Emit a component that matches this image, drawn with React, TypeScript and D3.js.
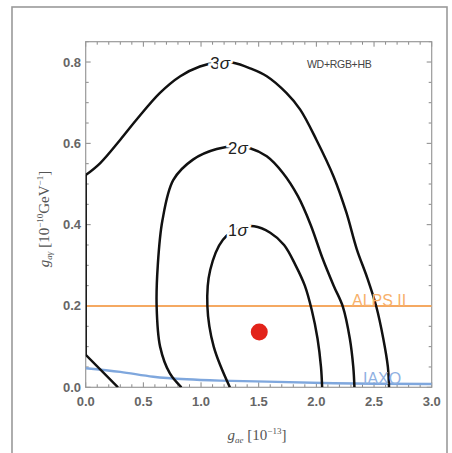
import React from "react";
import * as d3 from "d3";

const xTicks = [0, 0.5, 1.0, 1.5, 2.0, 2.5, 3.0];
const yTicks = [0, 0.2, 0.4, 0.6, 0.8];

const sigma3Edge: [number, number][] = [
  [0.28, 0], [0.0, 0.08], [0.0, 0.522],
];
const sigma3Curve: [number, number][] = [
  [0.0, 0.522], [0.124, 0.551], [0.3, 0.609], [0.44, 0.658], [0.644, 0.724], [0.82, 0.765],
  [0.99, 0.789], [1.165, 0.8], [1.28, 0.798], [1.42, 0.785], [1.57, 0.765], [1.74, 0.724],
  [1.86, 0.683], [2.0, 0.609], [2.15, 0.518], [2.26, 0.43], [2.35, 0.34], [2.44, 0.27],
  [2.52, 0.198], [2.58, 0.12], [2.62, 0.05], [2.63, 0],
];
const sigma2: [number, number][] = [
  [0.83, 0], [0.73, 0.034], [0.645, 0.1], [0.615, 0.2], [0.625, 0.3], [0.665, 0.41],
  [0.76, 0.51], [0.93, 0.56], [1.136, 0.586], [1.31, 0.592], [1.425, 0.588], [1.57, 0.568],
  [1.71, 0.527], [1.84, 0.47], [1.95, 0.4], [2.05, 0.32], [2.15, 0.25], [2.23, 0.198],
  [2.29, 0.12], [2.32, 0.05], [2.33, 0],
];
const sigma1: [number, number][] = [
  [1.25, 0], [1.11, 0.1], [1.055, 0.2], [1.08, 0.289], [1.19, 0.363], [1.32, 0.39],
  [1.46, 0.396], [1.6, 0.38], [1.72, 0.35], [1.82, 0.3], [1.9, 0.25], [1.96, 0.19],
  [2.01, 0.12], [2.04, 0.05], [2.05, 0],
];
const iaxo: [number, number][] = [
  [0, 0.047], [0.3, 0.038], [0.586, 0.026], [0.876, 0.0197], [1.165, 0.0164],
  [1.57, 0.014], [2.15, 0.01], [3.0, 0.008],
];
const alpsValue = 0.2;
const bestFit: [number, number] = [1.505, 0.136];
const contourLabels = [
  { text: "3", x: 1.165, y: 0.797 },
  { text: "2", x: 1.32, y: 0.588 },
  { text: "1", x: 1.32, y: 0.387 },
];

const W = 452, H = 453;
const left = 85.7, right = 431.7, top = 41.7, bottom = 387.3;

export default function App() {
  const x = d3.scaleLinear().domain([0, 3]).range([left, right]);
  const y = d3.scaleLinear().domain([0, 0.85]).range([bottom, top]);
  const smooth = d3.line<[number, number]>().x(d => x(d[0])).y(d => y(d[1])).curve(d3.curveCatmullRom.alpha(0.5));
  const straight = d3.line<[number, number]>().x(d => x(d[0])).y(d => y(d[1]));

  const xMinor = d3.range(0, 3.0001, 0.1);
  const yMinor = d3.range(0, 0.8501, 0.05);
  const tickColor = "#888";
  const labelFont = "'Liberation Sans', Arial, sans-serif";

  return (
    <svg width={W} height={H} style={{ position: "absolute", left: 0, top: 0, background: "#fff" }}>
      <rect x={12} y={7} width={435} height={460} fill="none" stroke="#9a9a9a" strokeWidth={1.6} />
      <defs>
        <clipPath id="plotclip">
          <rect x={left} y={top} width={right - left} height={bottom - top} />
        </clipPath>
      </defs>
      {xMinor.map((v, i) => {
        const major = Math.abs(v * 2 - Math.round(v * 2)) < 1e-6;
        const len = major ? 5 : 3;
        return (
          <g key={"xt" + i}>
            <line x1={x(v)} x2={x(v)} y1={bottom} y2={bottom - len} stroke={tickColor} />
            <line x1={x(v)} x2={x(v)} y1={top} y2={top + len} stroke={tickColor} />
          </g>
        );
      })}
      {yMinor.map((v, i) => {
        const major = Math.abs(v * 5 - Math.round(v * 5)) < 1e-6;
        const len = major ? 5 : 3;
        return (
          <g key={"yt" + i}>
            <line x1={left} x2={left + len} y1={y(v)} y2={y(v)} stroke={tickColor} />
            <line x1={right} x2={right - len} y1={y(v)} y2={y(v)} stroke={tickColor} />
          </g>
        );
      })}
      <rect x={left} y={top} width={right - left} height={bottom - top} fill="none" stroke="#999" strokeWidth={1.2} />
      {xTicks.map(v => (
        <text key={"xl" + v} x={x(v)} y={406} textAnchor="middle" fontFamily={labelFont} fontSize={13} fontWeight="bold" fill="#666">
          {d3.format(".1f")(v)}
        </text>
      ))}
      {yTicks.map(v => (
        <text key={"yl" + v} x={81} y={y(v) + 4.5} textAnchor="end" fontFamily={labelFont} fontSize={13} fontWeight="bold" fill="#666">
          {d3.format(".1f")(v)}
        </text>
      ))}
      <g clipPath="url(#plotclip)">
        <line x1={left} x2={right} y1={y(alpsValue)} y2={y(alpsValue)} stroke="#f5a962" strokeWidth={2.2} />
        <path d={smooth(iaxo) || ""} fill="none" stroke="#7fa7dd" strokeWidth={2.4} />
        <path d={straight(sigma3Edge) || ""} fill="none" stroke="#111" strokeWidth={2.5} strokeLinejoin="round" />
        <path d={smooth(sigma3Curve) || ""} fill="none" stroke="#111" strokeWidth={2.5} />
        <path d={smooth(sigma2) || ""} fill="none" stroke="#111" strokeWidth={2.5} />
        <path d={smooth(sigma1) || ""} fill="none" stroke="#111" strokeWidth={2.5} />
      </g>
      <text x={352} y={306} fontFamily={labelFont} fontSize={16} fill="#f7b06a">ALPS II</text>
      <text x={363} y={384} fontFamily={labelFont} fontSize={16} fill="#8fb1e2">IAXO</text>
      {contourLabels.map((c, i) => (
        <text key={"cl" + i} x={x(c.x)} y={y(c.y) + 6} textAnchor="middle" fontFamily={labelFont} fontSize={17}
          fill="#222" stroke="#fff" strokeWidth={5} style={{ paintOrder: "stroke" }}>
          {c.text}<tspan fontStyle="italic">σ</tspan>
        </text>
      ))}
      <circle cx={x(bestFit[0])} cy={y(bestFit[1])} r={8.5} fill="#e2231a" />
      <text x={307} y={67.5} fontFamily={labelFont} fontSize={10.5} fill="#444" letterSpacing={-0.3}>WD+RGB+HB</text>
      <text x={257} y={440} textAnchor="middle" fontFamily="'Liberation Serif', 'Times New Roman', serif" fontSize={15} fill="#555">
        <tspan fontStyle="italic">g</tspan><tspan fontSize={9} dy={3} fontStyle="italic">ae</tspan>
        <tspan dy={-3}> [10</tspan><tspan fontSize={9} dy={-6}>−13</tspan><tspan dy={6}>]</tspan>
      </text>
      <text transform={`translate(49,219) rotate(-90)`} textAnchor="middle" fontFamily="'Liberation Serif', 'Times New Roman', serif" fontSize={15} fill="#555">
        <tspan fontStyle="italic">g</tspan><tspan fontSize={9} dy={3} fontStyle="italic">aγ</tspan>
        <tspan dy={-3}> [10</tspan><tspan fontSize={9} dy={-6}>−10</tspan><tspan dy={6}>GeV</tspan><tspan fontSize={9} dy={-6}>−1</tspan><tspan dy={6}>]</tspan>
      </text>
    </svg>
  );
}
